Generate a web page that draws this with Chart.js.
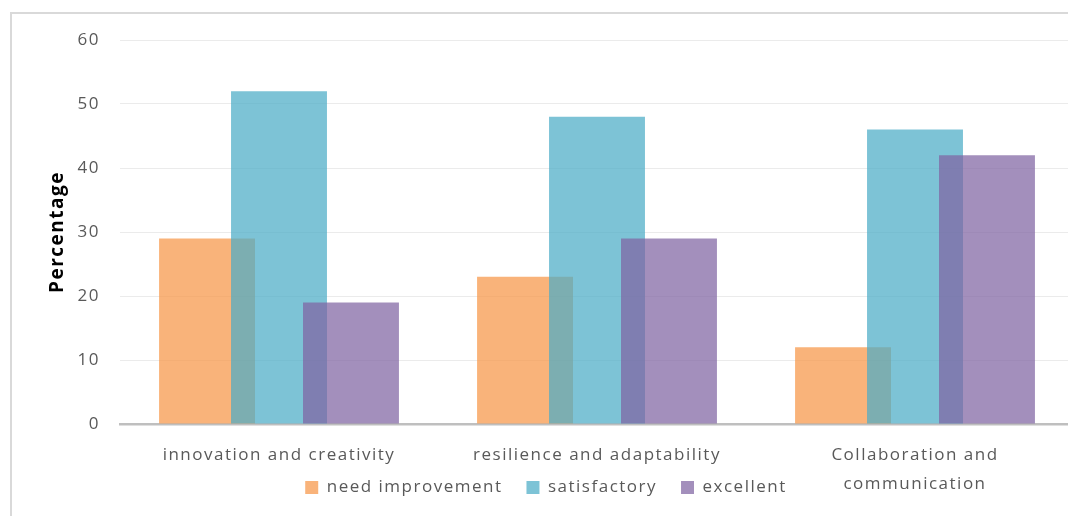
<!DOCTYPE html>
<html>
<head>
<meta charset="utf-8">
<script src="https://cdn.jsdelivr.net/npm/chart.js@4.4.1/dist/chart.umd.min.js"></script>
<style>
  html, body { margin: 0; padding: 0; background: #fff; overflow: hidden; }
  #frame { position: absolute; left: 10px; top: 12px; width: 1100px; height: 600px; border: 2px solid #d9d9d9; }
  #wrap { position: absolute; left: 0; top: 0; width: 1076px; height: 516px; }
</style>
</head>
<body>
<div id="frame"></div>
<div id="wrap"><canvas id="chart" width="1076" height="516"></canvas></div>
<script>
// chart data
const categories = [
  'innovation and creativity',
  'resilience and adaptability',
  ['Collaboration and', 'communication']
];
const needImprovement = [29, 23, 12];
const satisfactory = [52, 48, 46];
const excellent = [19, 29, 42];
const yTickValues = [0, 10, 20, 30, 40, 50, 60];

const textColor = '#595959';
const labelFont = { family: 'Open Sans', size: 17, lineHeight: 1.7 };

// the original text is loosely spaced; canvas resets state on resize so set it per pass
const spacing = {
  id: 'spacing',
  beforeLayout(chart) { chart.ctx.letterSpacing = '1.5px'; },
  beforeDraw(chart) { chart.ctx.letterSpacing = '1.5px'; }
};

// draw the bars left to right so the right-hand bar sits on top, like the original
const drawOrder = {
  id: 'drawOrder',
  beforeDatasetsDraw(chart) {
    chart.data.datasets.forEach((d, i) => chart.getDatasetMeta(i).controller.draw());
    return false;
  }
};

// the legend shares its row with the second line of the last category label
const legendPlace = {
  id: 'legendPlace',
  afterLayout(chart) {
    const l = chart.legend;
    const h = l.height;
    l.top = 455;
    l.bottom = l.top + h;
    l.left -= 6;
    l.right -= 6;
  }
};

const ctx = document.getElementById('chart').getContext('2d');
new Chart(ctx, {
  type: 'bar',
  data: {
    labels: categories,
    datasets: [
      { label: 'need improvement', data: needImprovement, backgroundColor: 'rgba(247,150,70,0.72)' },
      { label: 'satisfactory', data: satisfactory, backgroundColor: 'rgba(75,172,198,0.72)' },
      { label: 'excellent', data: excellent, backgroundColor: 'rgba(128,100,162,0.72)' }
    ]
  },
  plugins: [spacing, drawOrder, legendPlace],
  options: {
    responsive: false,
    animation: false,
    categoryPercentage: 0.679,
    barPercentage: 1.333,
    layout: { padding: { left: 30, right: 2, top: 40, bottom: -34 } },
    plugins: {
      tooltip: { enabled: false },
      legend: {
        position: 'bottom',
        labels: {
          boxWidth: 13,
          boxHeight: 13,
          padding: 24,
          color: textColor,
          font: { family: 'Open Sans', size: 17 }
        }
      }
    },
    scales: {
      x: {
        grid: { display: false, drawTicks: false },
        border: { color: '#bfbfbf', width: 2.5 },
        ticks: { color: textColor, font: labelFont, padding: 17, maxRotation: 0, autoSkip: false },
        afterFit: s => { s.height = 75; }
      },
      y: {
        min: 0,
        max: 60,
        border: { display: false },
        grid: { color: '#ebebeb', drawTicks: false },
        afterBuildTicks: s => { s.ticks = yTickValues.map(v => ({ value: v })); },
        ticks: { color: textColor, font: { family: 'Open Sans', size: 17 }, padding: 20 },
        title: {
          display: true,
          text: 'Percentage',
          color: '#000',
          font: { family: 'Open Sans', size: 19, weight: 'bold' },
          padding: { top: 16, bottom: 0 }
        },
        afterFit: s => { s.width = 90; }
      }
    }
  }
});
</script>
</body>
</html>
